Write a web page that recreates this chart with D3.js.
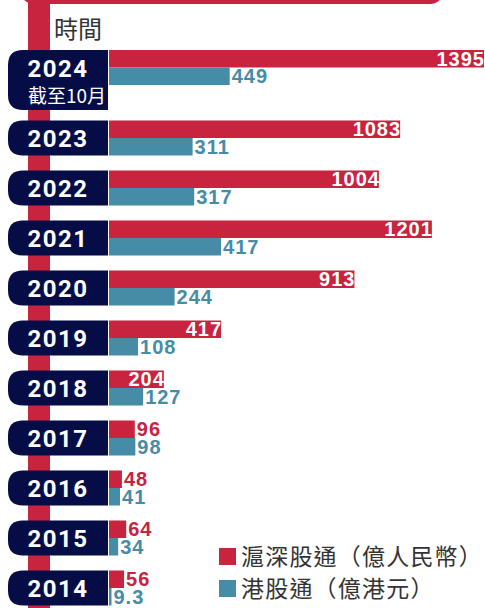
<!DOCTYPE html>
<html lang="zh-Hant">
  <head>
    <meta charset="utf-8">
    <title>滬深股通 港股通</title>
  </head>
  <style>
    body { margin: 0; background: #fff; }
    svg { display: block; }
    .year { font-family: Roboto, "Liberation Sans", sans-serif; font-weight: bold; fill: #fff; }
    .val { font-family: "Liberation Sans", Arial, sans-serif; font-weight: bold; font-size: 20px; letter-spacing: 1px; }
    .cjk { font-family: "Noto Sans CJK TC", "Noto Sans CJK SC", sans-serif; fill: #333; }
  </style>
  <body>
    <div id="svg-area"></div>
    <script src="https://cdn.jsdelivr.net/npm/d3@7"></script>
    <script>
      const svg_width = 485;
      const svg_height = 608;

      // data
      const years = ['2024', '2023', '2022', '2021', '2020', '2019', '2018', '2017', '2016', '2015', '2014'];
      const north = [1395, 1083, 1004, 1201, 913, 417, 204, 96, 48, 64, 56];   //滬深股通（億人民幣）
      const south = [449, 311, 317, 417, 244, 108, 127, 98, 41, 34, 9.3];     //港股通（億港元）
      const seriesNames = ['滬深股通（億人民幣）', '港股通（億港元）'];
      const colors = ['#c8233f', '#468ca7'];
      const navy = '#050c46';

      const rows = years.map((y, i) => ({year: y, north: north[i], south: south[i], i: i}));

      const svg = d3.select('#svg-area')
        .append('svg')
        .attr('width', svg_width)
        .attr('height', svg_height);

      //scales
      const x_scale = d3.scaleLinear()
        .domain([0, 1395])
        .range([109, 484]);

      // first row is taller (two-line label), rest step by 50
      const rowTop = (i) => i === 0 ? 50 : 120.5 + (i - 1) * 50;
      const barH = 17.5;

      //header strip + timeline
      svg.append('rect')
        .attr('x', 20).attr('y', -40)
        .attr('width', 424).attr('height', 44)
        .attr('rx', 14)
        .attr('fill', colors[0]);
      svg.append('rect')
        .attr('x', 28).attr('y', 0)
        .attr('width', 22).attr('height', svg_height)
        .attr('fill', colors[0]);

      svg.append('text')
        .attr('class', 'cjk')
        .attr('x', 54).attr('y', 38)
        .attr('font-size', 24)
        .text('時間');

      const g = svg.selectAll('g.row')
        .data(rows)
        .enter()
        .append('g')
        .attr('class', 'row')
        .attr('transform', d => `translate(0,${rowTop(d.i)})`);

      //year box, rounded on left only
      g.append('path')
        .attr('fill', navy)
        .attr('d', d => {
          const h = d.i === 0 ? 60 : 35;
          const r = 15, x0 = 8, x1 = 108;
          return `M${x1},0 L${x0 + r},0 Q${x0},0 ${x0},${r} L${x0},${h - r} Q${x0},${h} ${x0 + r},${h} L${x1},${h} Z`;
        });

      g.append('text')
        .attr('class', 'year')
        .attr('x', 58)
        .attr('y', 26.5)
        .attr('text-anchor', 'middle')
        .attr('font-size', 24)
        .attr('letter-spacing', 1.5)
        .text(d => d.year);

      g.filter(d => d.i === 0)
        .append('text')
        .attr('class', 'cjk')
        .attr('x', 28).attr('y', 53)
        .attr('font-size', 19)
        .style('fill', '#fff')
        .text('截至10月');

      //bars
      g.append('rect')
        .attr('x', x_scale(0))
        .attr('y', 0)
        .attr('width', d => x_scale(d.north) - x_scale(0))
        .attr('height', barH)
        .attr('fill', colors[0]);

      g.append('rect')
        .attr('x', x_scale(0))
        .attr('y', barH)
        .attr('width', d => x_scale(d.south) - x_scale(0))
        .attr('height', barH)
        .attr('fill', colors[1]);

      //labels: big red values sit inside the bar in white
      const inside = (d) => d.north > 150;
      g.append('text')
        .attr('class', 'val')
        .attr('x', d => inside(d) ? x_scale(d.north) + 1 : x_scale(d.north) + 2)
        .attr('y', barH - 2)
        .attr('text-anchor', d => inside(d) ? 'end' : 'start')
        .attr('fill', d => inside(d) ? '#fff' : colors[0])
        .text(d => d.north);

      g.append('text')
        .attr('class', 'val')
        .attr('x', d => x_scale(d.south) + 2)
        .attr('y', barH * 2 - 2)
        .attr('fill', colors[1])
        .text(d => d.south);

      //legend
      const legend = svg.selectAll('g.legend')
        .data(seriesNames)
        .enter()
        .append('g')
        .attr('class', 'legend')
        .attr('transform', (d, i) => `translate(219,${548 + i * 32})`);

      legend.append('rect')
        .attr('width', 17).attr('height', 17)
        .attr('fill', (d, i) => colors[i]);

      legend.append('text')
        .attr('class', 'cjk')
        .attr('x', 22).attr('y', 17)
        .attr('font-size', 23)
        .attr('letter-spacing', 1.2)
        .text(d => d);
    </script>
  </body>
</html>
